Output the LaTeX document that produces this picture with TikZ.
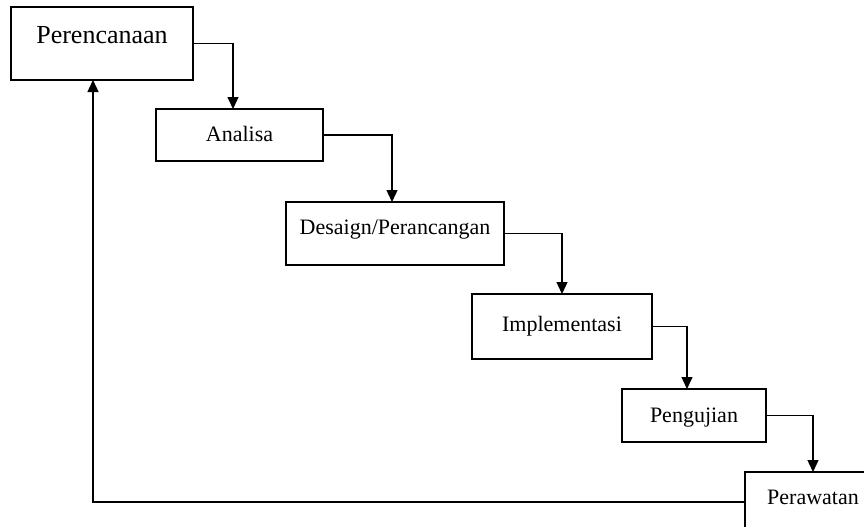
\documentclass[tikz,border=0pt]{standalone}
\usepackage{fontspec}
\setmainfont{Liberation Serif}
\usetikzlibrary{arrows.meta}
\newdimen\pxu \pxu=0.75pt
\tikzset{
  box/.style={draw=black, line width=1pt, rectangle, inner sep=0pt, outer sep=0pt,
    anchor=north west, font=\fontsize{16.5}{18}\selectfont},
  arr/.style={draw=black, line width=1pt, -{Triangle[width=8.25pt,length=9pt]}}
}
\begin{document}
\begin{tikzpicture}[x=0.75pt, y=-0.75pt]
\useasboundingbox (0,0) rectangle (864,526);
\clip (0,0) rectangle (864,526);
\node[box, minimum width=182\pxu, text height=36.5\pxu, text depth=36.5\pxu,
  font=\fontsize{19.5}{22}\selectfont] (p) at (11,7) {Perencanaan};
\node[box, minimum width=167\pxu, text height=32.7\pxu, text depth=19.3\pxu] (a) at (156,109) {Analisa};
\node[box, minimum width=218\pxu, text height=32\pxu, text depth=31\pxu] (d) at (286,202) {Desaign/Perancangan};
\node[box, minimum width=180\pxu, text height=37.7\pxu, text depth=27.3\pxu] (i) at (472,294) {Implementasi};
\node[box, minimum width=144\pxu, text height=33.3\pxu, text depth=19.7\pxu] (u) at (622,389) {Pengujian};
\node[box, minimum width=136\pxu, text height=32.3\pxu, text depth=27.7\pxu] (w) at (745,472) {Perawatan};
\draw[arr] (p.east) -| ([xshift=-4.875pt]a.north);
\draw[arr] (a.east) -| ([xshift=-2.25pt]d.north);
\draw[arr] (d.east) -| (i.north);
\draw[arr] (i.east) -| ([xshift=-5.25pt]u.north);
\draw[arr] (u.east) -| (w.north);
\draw[arr] (w.west) -| ([xshift=-6.75pt]p.south);
\end{tikzpicture}
\end{document}
